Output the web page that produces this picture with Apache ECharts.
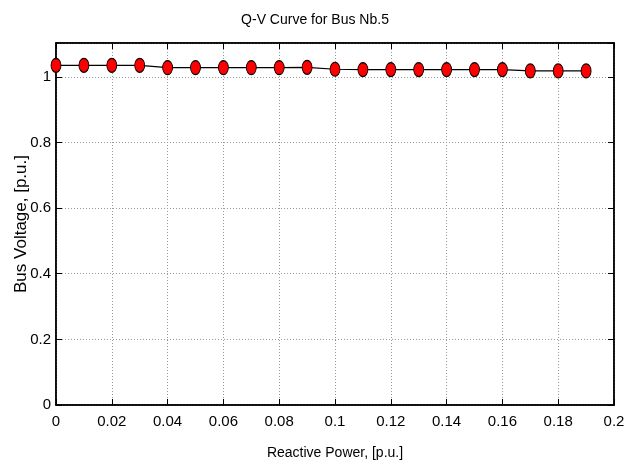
<!DOCTYPE html>
<html><head><meta charset="utf-8">
<script src="https://cdn.jsdelivr.net/npm/echarts@6/dist/echarts.min.js"></script>
<style>html,body{margin:0;padding:0;background:#fff}#c{width:630px;height:466px}</style>
</head><body><div id="c"></div>
<script>
const reactivePower = [0,0.01,0.02,0.03,0.04,0.05,0.06,0.07,0.08,0.09,0.1,0.11,0.12,0.13,0.14,0.15,0.16,0.17,0.18,0.19];
const busVoltage = [1.035,1.035,1.035,1.035,1.028,1.028,1.028,1.028,1.028,1.029,1.023,1.022,1.022,1.022,1.022,1.022,1.022,1.018,1.018,1.018];
const titleText = 'Q-V Curve for Bus Nb.5';
const xName = 'Reactive Power, [p.u.]';
const yName = 'Bus Voltage, [p.u.]';
const FONT = '"Liberation Sans", Arial, sans-serif';
const chart = echarts.init(document.getElementById('c'));
const tick = () => ({show:true,inside:true,length:6,lineStyle:{color:'#000',width:1}});
chart.setOption({
  animation:false,
  title:{text:titleText,left:'center',top:8,textStyle:{fontFamily:FONT,fontSize:14,fontWeight:'normal',color:'#000'}},
  grid:{left:56,right:16,top:43,bottom:61,show:true,borderColor:'#000',borderWidth:1.5,containLabel:false,outerBoundsMode:'none'},
  xAxis:[{type:'value',min:0,max:0.2,interval:0.02,name:xName,nameLocation:'middle',nameGap:41,
    nameTextStyle:{fontFamily:FONT,fontSize:14,color:'#000'},
    axisLine:{show:true,onZero:false,lineStyle:{color:'#000',width:1.5}},
    axisTick:tick(),
    axisLabel:{fontFamily:FONT,fontSize:15,color:'#000',margin:9,formatter:v=>String(+v.toFixed(2))},
    splitLine:{show:true,lineStyle:{color:'#999',type:[1,2],width:1}}},
    {type:'value',position:'top',min:0,max:0.2,interval:0.02,
    axisLine:{show:true,onZero:false,lineStyle:{color:'#000',width:1.5}},axisTick:tick(),axisLabel:{show:false},splitLine:{show:false}}],
  yAxis:[{type:'value',position:'left',min:0,max:1.103,interval:0.2,name:yName,nameLocation:'middle',nameGap:26,nameMoveOverlap:false,
    nameTextStyle:{fontFamily:FONT,fontSize:17,color:'#000'},
    axisLine:{show:true,onZero:false,lineStyle:{color:'#000',width:1.5}},
    axisTick:tick(),
    axisLabel:{fontFamily:FONT,fontSize:15,color:'#000',margin:5,showMaxLabel:false,formatter:v=>String(+v.toFixed(1))},
    splitLine:{show:true,lineStyle:{color:'#999',type:[1,2],width:1}}},
    {type:'value',position:'right',min:0,max:1.103,interval:0.2,
    axisLine:{show:true,onZero:false,lineStyle:{color:'#000',width:1.5}},axisTick:tick(),axisLabel:{show:false},splitLine:{show:false}}],
  series:[{type:'line',xAxisIndex:0,yAxisIndex:0,data:reactivePower.map((x,i)=>[x,busVoltage[i]]),
    lineStyle:{color:'#000',width:1.2},
    symbol:'circle',symbolSize:[10,14],
    itemStyle:{color:'#ff0000',borderColor:'#000',borderWidth:1}}]
});
</script></body></html>
